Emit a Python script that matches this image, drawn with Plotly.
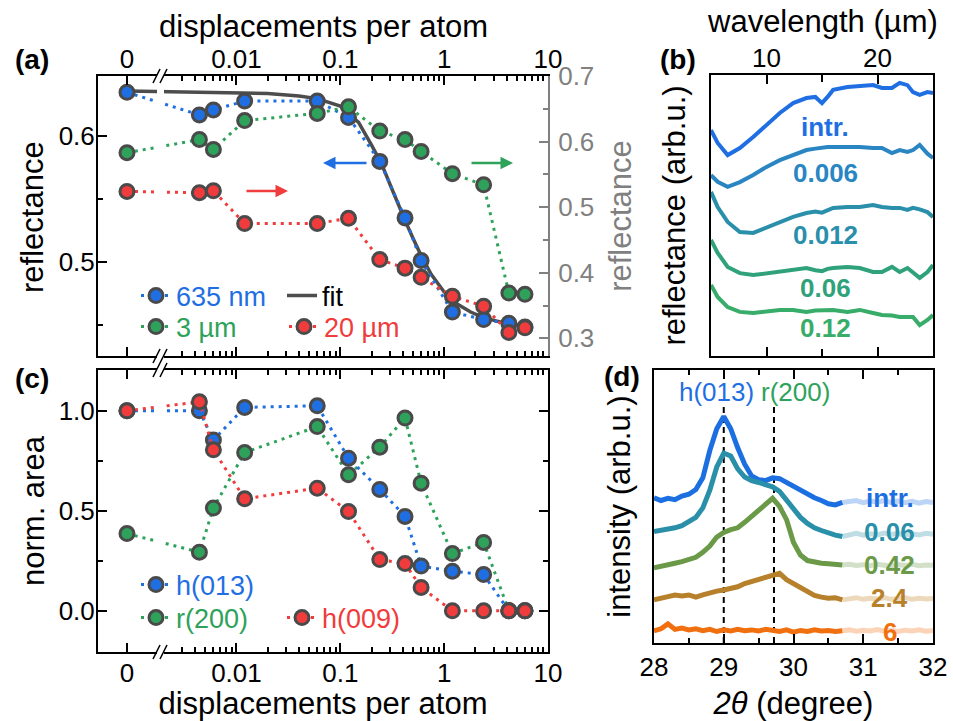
import plotly.graph_objects as go

# ---------------- data ----------------
DPA = [0, 0.0044, 0.006, 0.012, 0.06, 0.12, 0.24, 0.42, 0.6, 1.2, 2.4, 4.2, 6]
REFL_635NM = [0.635, 0.617, 0.621, 0.628, 0.628, 0.615, 0.580, 0.535, 0.501, 0.460, 0.454, 0.451, 0.448]
REFL_3UM = [0.583, 0.603, 0.588, 0.632, 0.643, 0.653, 0.616, 0.603, 0.585, 0.551, 0.534, 0.369, 0.367]
REFL_20UM = [0.524, 0.522, 0.525, 0.475, 0.475, 0.483, 0.420, 0.407, 0.393, 0.364, 0.349, 0.309, 0.316]

FIT_DPA = [0, 0.005, 0.01, 0.02, 0.04, 0.06, 0.1, 0.15, 0.2, 0.25, 0.3, 0.35, 0.42, 0.5,
           0.6, 0.75, 1.0, 1.3, 1.8, 2.5, 4, 6]
FIT_635NM = [0.636, 0.635, 0.635, 0.634, 0.632, 0.630, 0.624, 0.611, 0.593, 0.578, 0.562, 0.548,
             0.533, 0.519, 0.505, 0.490, 0.476, 0.467, 0.460, 0.455, 0.451, 0.449]

AREA_H013 = [1.0, 1.0, 0.854, 1.017, 1.025, 0.763, 0.607, 0.472, 0.224, 0.198, 0.181, 0.0, 0.0]
AREA_R200 = [0.386, 0.293, 0.514, 0.791, 0.921, 0.680, 0.818, 0.964, 0.638, 0.286, 0.342, 0.0, 0.0]
AREA_H009 = [1.0, 1.045, 0.805, 0.560, 0.613, 0.497, 0.256, 0.236, 0.117, 0.0, 0.0, 0.0, 0.0]

# panel (b): IR reflectance spectra (arb. u., offset)
WAVELENGTH = [5.0, 5.6, 6.5, 7.6, 8.8, 10.0, 11.2, 12.4, 13.6, 14.4, 15.0, 15.5, 16.0, 17.3,
              18.4, 19.6, 20.4, 21.3, 22.0, 22.7, 23.2, 23.8, 24.5, 25.0]
IR_LABELS = ["intr.", "0.006", "0.012", "0.06", "0.12"]
IR_SPECTRA = [
    [8.04, 7.58, 7.15, 7.40, 7.79, 8.22, 8.65, 9.00, 9.18, 9.22, 9.00, 9.22, 9.47, 9.57,
     9.61, 9.64, 9.54, 9.54, 9.72, 9.64, 9.39, 9.29, 9.39, 9.36],
    [6.44, 6.20, 6.02, 6.19, 6.44, 6.73, 6.97, 7.15, 7.33, 7.38, 7.42, 7.44, 7.44, 7.44,
     7.44, 7.40, 7.40, 7.22, 7.33, 7.26, 7.33, 7.51, 7.20, 7.05],
    [5.84, 5.30, 4.77, 4.41, 4.38, 4.56, 4.77, 4.95, 5.09, 5.14, 5.10, 5.20, 5.27, 5.30,
     5.30, 5.37, 5.30, 5.27, 5.27, 5.20, 5.27, 5.22, 5.12, 4.95],
    [4.13, 3.67, 3.17, 2.95, 2.88, 2.95, 2.99, 3.06, 3.13, 3.05, 3.02, 3.10, 3.13, 3.17,
     3.13, 2.99, 2.99, 3.17, 2.99, 3.13, 2.99, 2.78, 2.99, 3.24],
    [2.53, 2.10, 1.74, 1.57, 1.53, 1.57, 1.64, 1.64, 1.57, 1.62, 1.64, 1.64, 1.64, 1.57,
     1.64, 1.53, 1.46, 1.44, 1.39, 1.39, 1.39, 1.10, 1.28, 1.46],
]
IR_LABEL_POS = [(15.3, 8.15), (15.3, 6.51), (15.3, 4.31), (15.3, 2.42), (15.3, 0.99)]

# panel (d): XRD patterns (arb. u., offset)
TWO_THETA = [28.0, 28.1, 28.2, 28.3, 28.4, 28.5, 28.6, 28.7, 28.8, 28.9, 29.0, 29.1, 29.2, 29.3,
             29.4, 29.5, 29.6, 29.7, 29.8, 29.9, 30.0, 30.1, 30.2, 30.3, 30.4, 30.5, 30.6, 30.7,
             30.8, 30.9, 31.0, 31.1, 31.2, 31.3, 31.4, 31.5, 31.6, 31.7, 31.8, 31.9, 32.0]
XRD_LABELS = ["intr.", "0.06", "0.42", "2.4", "6"]
XRD_PATTERNS = [
    [5.32, 5.22, 5.30, 5.25, 5.38, 5.45, 5.62, 6.05, 7.05, 7.85, 8.30, 7.85, 7.15, 6.55,
     6.12, 5.98, 5.95, 6.05, 6.02, 5.88, 5.70, 5.58, 5.46, 5.32, 5.22, 5.10, 5.06, 5.15,
     5.18, 5.22, 5.14, 5.20, 5.16, 5.22, 5.15, 5.20, 5.14, 5.19, 5.12, 5.18, 5.15],
    [4.08, 4.12, 4.15, 4.22, 4.30, 4.45, 4.60, 4.95, 5.60, 6.45, 6.95, 6.85, 6.38, 6.08,
     5.95, 5.88, 5.82, 5.72, 5.55, 5.22, 4.92, 4.60, 4.38, 4.22, 4.12, 4.02, 3.95, 3.90,
     3.97, 4.02, 3.95, 4.00, 3.96, 4.03, 3.98, 4.02, 3.95, 4.00, 3.96, 4.02, 3.98],
    [2.75, 2.82, 2.86, 2.92, 2.98, 3.05, 3.14, 3.32, 3.55, 3.88, 4.05, 4.15, 4.22, 4.42,
     4.65, 4.85, 5.10, 5.30, 5.00, 4.52, 3.68, 3.22, 3.02, 2.96, 2.92, 2.90, 2.88, 2.86,
     2.88, 2.84, 2.87, 2.83, 2.88, 2.85, 2.82, 2.87, 2.84, 2.88, 2.83, 2.86, 2.85],
    [1.58, 1.66, 1.70, 1.76, 1.72, 1.76, 1.68, 1.76, 1.84, 1.90, 1.94, 2.00, 2.06, 2.18,
     2.26, 2.32, 2.40, 2.48, 2.55, 2.32, 2.18, 2.02, 1.86, 1.74, 1.68, 1.64, 1.66, 1.58,
     1.62, 1.66, 1.60, 1.64, 1.61, 1.66, 1.60, 1.63, 1.66, 1.60, 1.64, 1.61, 1.63],
    [0.45, 0.52, 0.70, 0.50, 0.55, 0.48, 0.52, 0.45, 0.50, 0.42, 0.48, 0.44, 0.50, 0.45,
     0.48, 0.44, 0.50, 0.47, 0.42, 0.48, 0.40, 0.46, 0.42, 0.48, 0.44, 0.46, 0.42, 0.45,
     0.48, 0.43, 0.47, 0.44, 0.49, 0.43, 0.46, 0.42, 0.47, 0.44, 0.48, 0.43, 0.46],
]
XRD_LABEL_POS = [(31.38, 5.31), (31.38, 4.07), (31.38, 2.86), (31.38, 1.65), (31.38, 0.40)]
XRD_FADE_FROM = 30.7
PEAK_LINES = [29.0, 29.72]

# ---------------- style ----------------
FONT = "Liberation Sans, Arial, sans-serif"
BLUE, GREEN, RED = "#1f6fe3", "#2ea25a", "#f03c3c"
EDGE = "#4a4a4a"
GRAY = "#808080"
IR_COLORS = ["#1f6fe3", "#2a86c3", "#2a8fab", "#2fa27c", "#38ac69"]
XRD_COLORS = ["#1c6fe0", "#2a8fa8", "#6a9a48", "#b7802a", "#f07010"]
FADE_COLORS = ["#bcd4f6", "#bfdde5", "#d3e0c9", "#ecd9bb", "#fbd4b7"]
TICK_SIZE, TITLE_SIZE, LEG_SIZE = 26, 31, 27

W, H = 953, 721
def px(x): return x / W
def py(y): return 1 - y / H

ZERO_POS = 8.83e-4        # position used for the "0" of the broken log axis
XLOG_RANGE = [-3.333, 1.0]
def brk(v): return [ZERO_POS if d == 0 else d for d in v]

X_MINOR = [k * 10.0 ** e for e in (-3, -2, -1, 0) for k in range(2, 10) if k * 10.0 ** e > 0.0025]

fig = go.Figure()

mk = dict(size=14, line=dict(color=EDGE, width=3))
DOT = "3px,5px"

# ---- panel (a)
fig.add_trace(go.Scatter(x=brk(FIT_DPA), y=FIT_635NM, mode="lines", name="fit",
                         line=dict(color="#4d4d4d", width=3.5), xaxis="x", yaxis="y",
                         legend="legend3"))
fig.add_trace(go.Scatter(x=brk(DPA), y=REFL_3UM, mode="lines+markers", name="3 µm",
                         line=dict(color=GREEN, width=3, dash=DOT),
                         marker=dict(color=GREEN, **mk), xaxis="x", yaxis="y2", legend="legend2"))
fig.add_trace(go.Scatter(x=brk(DPA), y=REFL_20UM, mode="lines+markers", name="20 µm",
                         line=dict(color=RED, width=3, dash=DOT),
                         marker=dict(color=RED, **mk), xaxis="x", yaxis="y2", legend="legend4"))
fig.add_trace(go.Scatter(x=brk(DPA), y=REFL_635NM, mode="lines+markers", name="635 nm",
                         line=dict(color=BLUE, width=3, dash=DOT),
                         marker=dict(color=BLUE, **mk), xaxis="x", yaxis="y", legend="legend"))

# ---- panel (c)
fig.add_trace(go.Scatter(x=brk(DPA), y=AREA_R200, mode="lines+markers", name="r(200)",
                         line=dict(color=GREEN, width=3, dash=DOT),
                         marker=dict(color=GREEN, **mk), xaxis="x3", yaxis="y3", legend="legend6"))
fig.add_trace(go.Scatter(x=brk(DPA), y=AREA_H013, mode="lines+markers", name="h(013)",
                         line=dict(color=BLUE, width=3, dash=DOT),
                         marker=dict(color=BLUE, **mk), xaxis="x3", yaxis="y3", legend="legend5"))
fig.add_trace(go.Scatter(x=brk(DPA), y=AREA_H009, mode="lines+markers", name="h(009)",
                         line=dict(color=RED, width=3, dash=DOT),
                         marker=dict(color=RED, **mk), xaxis="x3", yaxis="y3", legend="legend7"))

# ---- panel (b)
for lab, spec, col, (lx, ly) in zip(IR_LABELS, IR_SPECTRA, IR_COLORS, IR_LABEL_POS):
    fig.add_trace(go.Scatter(x=WAVELENGTH, y=spec, mode="lines", name=lab, showlegend=False,
                             line=dict(color=col, width=4), xaxis="x4", yaxis="y4"))
    fig.add_annotation(x=lx, y=ly, xref="x4", yref="y4", text="<b>%s</b>" % lab,
                       xanchor="center", yanchor="middle",
                       showarrow=False, font=dict(family=FONT, size=26, color=col))

# ---- panel (d)
for xv in PEAK_LINES:
    fig.add_trace(go.Scatter(x=[xv, xv], y=[0, 8.65], mode="lines", showlegend=False,
                             line=dict(color="black", width=2, dash="6px,4px"),
                             xaxis="x5", yaxis="y5", hoverinfo="skip"))
for lab, pat, col, fcol, (lx, ly) in zip(XRD_LABELS, XRD_PATTERNS, XRD_COLORS, FADE_COLORS, XRD_LABEL_POS):
    xs = [t for t in TWO_THETA if t <= XRD_FADE_FROM]
    ys = [v for t, v in zip(TWO_THETA, pat) if t <= XRD_FADE_FROM]
    xf = [t for t in TWO_THETA if t >= XRD_FADE_FROM]
    yf = [v for t, v in zip(TWO_THETA, pat) if t >= XRD_FADE_FROM]
    fig.add_trace(go.Scatter(x=xf, y=yf, mode="lines", showlegend=False,
                             line=dict(color=fcol, width=5), xaxis="x5", yaxis="y5"))
    fig.add_trace(go.Scatter(x=xs, y=ys, mode="lines", name=lab, showlegend=False,
                             line=dict(color=col, width=5), xaxis="x5", yaxis="y5"))
    fig.add_annotation(x=lx, y=ly, xref="x5", yref="y5", text="<b>%s</b>" % lab,
                       xanchor="center", yanchor="middle",
                       showarrow=False, font=dict(family=FONT, size=26, color=col))
fig.add_annotation(x=28.89, y=9.2, xref="x5", yref="y5", text="h(013)", showarrow=False,
                   xanchor="center", yanchor="middle", font=dict(family=FONT, size=26, color=BLUE))
fig.add_annotation(x=30.03, y=9.2, xref="x5", yref="y5", text="r(200)", showarrow=False,
                   xanchor="center", yanchor="middle", font=dict(family=FONT, size=26, color=GREEN))

# ---------------- axes ----------------
TF = dict(family=FONT, size=TICK_SIZE, color="black")
common_x = dict(ticks="inside", ticklen=9, tickwidth=2, tickcolor="black", showline=True,
                linewidth=2, linecolor="black", mirror="ticks", showgrid=False, zeroline=False,
                tickfont=TF, automargin=False)
common_y = dict(ticks="inside", ticklen=9, tickwidth=2, tickcolor="black", showline=True,
                linewidth=2, linecolor="black", showgrid=False, zeroline=False,
                tickfont=TF, automargin=False)
minor_log = dict(tickmode="array", tickvals=X_MINOR, ticks="inside", ticklen=5, tickwidth=1.5,
                 tickcolor="black", showgrid=False)
XT = [ZERO_POS, 0.01, 0.1, 1, 10]
XTT = ["0", "0.01", "0.1", "1", "10"]

def ttl(text, standoff, color="black"):
    return dict(text=text, font=dict(family=FONT, size=TITLE_SIZE, color=color), standoff=standoff)

fig.update_layout(
    xaxis=dict(type="log", range=XLOG_RANGE, domain=[px(98), px(548)], anchor="y", side="top",
               tickmode="array", tickvals=XT, ticktext=XTT, minor=minor_log,
               ticklabelstandoff=-4, **common_x),
    yaxis=dict(domain=[py(356), py(76)], anchor="x", range=[0.425, 0.648],
               tickmode="array", tickvals=[0.5, 0.6], ticktext=["0.5", "0.6"],
               minor=dict(tickmode="array", tickvals=[0.45, 0.55], ticks="inside", ticklen=5,
                          tickwidth=1.5, tickcolor="black", showgrid=False),
               mirror=False, ticklabelstandoff=-4, **common_y),
    yaxis2=dict(overlaying="y", side="right", anchor="x", range=[0.273, 0.7],
                tickmode="array", tickvals=[0.3, 0.4, 0.5, 0.6, 0.7],
                ticktext=["0.3", "0.4", "0.5", "0.6", "0.7"],
                minor=dict(tickmode="array", tickvals=[0.35, 0.45, 0.55, 0.65], ticks="inside",
                           ticklen=5, tickwidth=1.5, tickcolor=GRAY, showgrid=False),
                ticks="inside", ticklen=9, tickwidth=2, tickcolor=GRAY, showline=True,
                linewidth=2, linecolor=GRAY, showgrid=False, zeroline=False,
                tickfont=dict(family=FONT, size=TICK_SIZE, color=GRAY), automargin=False,
                ticklabelstandoff=3, title=ttl("reflectance", 16, GRAY)),
    xaxis3=dict(type="log", range=XLOG_RANGE, domain=[px(98), px(548)], anchor="y3", side="bottom",
                tickmode="array", tickvals=XT, ticktext=XTT, minor=minor_log,
                ticklabelstandoff=-3, title=ttl("displacements per atom", 13), **common_x),
    yaxis3=dict(domain=[py(652), py(370)], anchor="x3", range=[-0.206, 1.204],
                tickmode="array", tickvals=[0, 0.5, 1.0], ticktext=["0.0", "0.5", "1.0"],
                minor=dict(tickmode="array", tickvals=[0.25, 0.75], ticks="inside", ticklen=5,
                           tickwidth=1.5, tickcolor="black", showgrid=False),
                mirror="ticks", ticklabelstandoff=-4, **common_y),
    xaxis4=dict(range=[5, 25], domain=[px(711), px(933)], anchor="y4", side="top",
                tickmode="array", tickvals=[10, 20],
                minor=dict(tickmode="array", tickvals=[15], ticks="inside", ticklen=7,
                           tickwidth=1.5, tickcolor="black", showgrid=False),
                ticklabelstandoff=-4, **common_x),
    yaxis4=dict(domain=[py(356), py(75)], anchor="x4", range=[0, 10], showticklabels=False,
                ticks="", showline=True, linewidth=2, linecolor="black", mirror=True,
                showgrid=False, zeroline=False, automargin=False,
                title=ttl("reflectance (arb.u.)", 14)),
    xaxis5=dict(range=[28, 32], domain=[px(654), px(933)], anchor="y5", side="bottom",
                tickmode="array", tickvals=[28, 29, 30, 31, 32],
                minor=dict(tickmode="array", tickvals=[28.5, 29.5, 30.5, 31.5], ticks="inside",
                           ticklen=5, tickwidth=1.5, tickcolor="black", showgrid=False),
                title=ttl("<i>2θ</i> (degree)", 11), **common_x),
    yaxis5=dict(domain=[py(643), py(370)], anchor="x5", range=[0, 10], showticklabels=False,
                ticks="", showline=True, linewidth=2, linecolor="black", mirror=True,
                showgrid=False, zeroline=False, automargin=False,
                title=ttl("intensity (arb.u.)", 12)),
)

# axis titles placed directly (top axes and left axes of the broken-axis panels)
for text, x, y, ang in [("displacements per atom", 323, 27, 0), ("wavelength (µm)", 822, 22, 0),
                        ("reflectance", 33, 217, -90), ("norm. area", 33, 511, -90)]:
    fig.add_annotation(x=px(x), y=py(y), xref="paper", yref="paper", text=text, textangle=ang,
                       xanchor="center", yanchor="middle", showarrow=False,
                       font=dict(family=FONT, size=TITLE_SIZE, color="black"))

# ---------------- legends ----------------
def leg(x, y, color):
    return dict(x=px(x), y=py(y), xanchor="left", yanchor="middle", bgcolor="rgba(0,0,0,0)",
                borderwidth=0, font=dict(family=FONT, size=LEG_SIZE, color=color), itemwidth=30)

fig.update_layout(
    legend=leg(136, 296, BLUE), legend2=leg(136, 327, GREEN),
    legend3=leg(282, 296, "black"), legend4=leg(284, 327, RED),
    legend5=leg(136, 585, BLUE), legend6=leg(136, 618, GREEN), legend7=leg(282, 618, RED),
)

# ---------------- axis breaks, arrows, panel labels ----------------
shapes = []
for top, bot in [(76, 356), (370, 652)]:
    shapes.append(dict(type="rect", xref="paper", yref="paper", x0=px(157), x1=px(164),
                       y0=py(bot + 3), y1=py(top - 3), fillcolor="white", line=dict(width=0),
                       layer="above"))
    for yy in (top, bot):
        for x0 in (153, 160):
            shapes.append(dict(type="line", xref="paper", yref="paper", x0=px(x0), y0=py(yy + 7),
                               x1=px(x0 + 7), y1=py(yy - 7), line=dict(color="black", width=1.6),
                               layer="above"))
fig.update_layout(shapes=shapes)

for head, dx, col, yy in [(288, -43, RED, 191), (323, 45, BLUE, 163), (513, -43, GREEN, 163)]:
    fig.add_annotation(x=px(head), y=py(yy), xref="paper", yref="paper", ax=dx, ay=0,
                       text="", showarrow=True, arrowhead=2, arrowsize=1, arrowwidth=2.5,
                       arrowcolor=col)

for lab, x, y in [("(a)", 32, 60), ("(b)", 678, 60), ("(c)", 32, 378), ("(d)", 622, 376)]:
    fig.add_annotation(x=px(x), y=py(y), xref="paper", yref="paper", text="<b>%s</b>" % lab,
                       xanchor="center", yanchor="middle",
                       showarrow=False, font=dict(family=FONT, size=28, color="black"))

fig.update_layout(width=W, height=H, margin=dict(l=0, r=0, t=0, b=0),
                  paper_bgcolor="white", plot_bgcolor="white", font=dict(family=FONT, color="black"))

fig.write_html("out.html")
